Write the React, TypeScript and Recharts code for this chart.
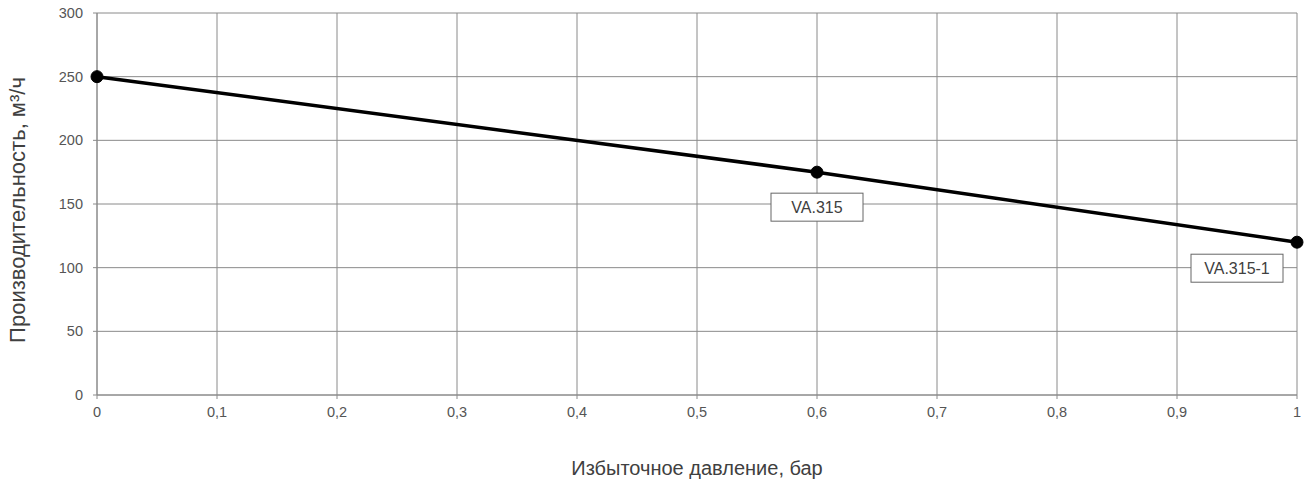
import React from 'react';
import { LineChart, Line, XAxis, YAxis, CartesianGrid, Label, LabelList } from 'recharts';

const pressure = [0, 0.6, 1];
const flow = [250, 175, 120];
const pointNames = ['', 'VA.315', 'VA.315-1'];
const xTicks = [0, 0.1, 0.2, 0.3, 0.4, 0.5, 0.6, 0.7, 0.8, 0.9, 1];
const yTicks = [0, 50, 100, 150, 200, 250, 300];

const data = pressure.map((p, i) => ({ p, flow: flow[i], name: pointNames[i] }));

const FONT = 'Liberation Sans, Arial, sans-serif';
const tickStyle = { fontSize: 14.5, fill: '#555', fontFamily: FONT };

// box label under a point; the last one sits to the left of the point
function BoxLabel(props: any) {
  const { x, y, value, index } = props;
  if (!value) return null;
  const w = 92;
  const h = 28;
  const last = index === pressure.length - 1;
  const cx = last ? x - 60 : x;
  const top = last ? y + 12 : y + 21;
  return (
    <g>
      <rect x={cx - w / 2} y={top} width={w} height={h} fill="#fff" stroke="#666" strokeWidth={1} />
      <text x={cx} y={top + h / 2 + 5.5} textAnchor="middle" fontSize={16} fill="#404040" fontFamily={FONT}>
        {value}
      </text>
    </g>
  );
}

export default function App() {
  return (
    <div style={{ width: 1311, height: 488, background: '#fff' }}>
      <style>{'body{margin:0}'}</style>
      <LineChart width={1311} height={488} data={data} margin={{ top: 13, right: 14, left: 0, bottom: 0 }}>
        <CartesianGrid stroke="#8a8a8a" strokeWidth={1} />
        <XAxis
          dataKey="p"
          type="number"
          domain={[0, 1]}
          ticks={xTicks}
          tickFormatter={(v: number) => String(v).replace('.', ',')}
          tick={tickStyle}
          tickLine={{ stroke: '#8a8a8a' }}
          axisLine={{ stroke: '#8a8a8a' }}
          tickSize={4}
          tickMargin={8}
          height={93}
        >
          <Label
            value="Избыточное давление, бар"
            position="insideBottom"
            offset={13}
            style={{ fontSize: 20, fill: '#404040', fontFamily: FONT }}
          />
        </XAxis>
        <YAxis
          type="number"
          domain={[0, 300]}
          ticks={yTicks}
          tick={tickStyle}
          tickLine={{ stroke: '#8a8a8a' }}
          axisLine={{ stroke: '#8a8a8a' }}
          tickSize={4}
          tickMargin={10}
          width={97}
        >
          <Label
            value="Производительность, м³/ч"
            angle={-90}
            position="insideLeft"
            offset={17}
            dy={6}
            style={{ fontSize: 22, fill: '#404040', textAnchor: 'middle', fontFamily: FONT }}
          />
        </YAxis>
        <Line
          dataKey="flow"
          type="linear"
          stroke="#000"
          strokeWidth={3.5}
          dot={{ r: 6, fill: '#000', stroke: '#000', strokeWidth: 1 }}
          activeDot={false}
          isAnimationActive={false}
        >
          <LabelList dataKey="name" content={BoxLabel} />
        </Line>
      </LineChart>
    </div>
  );
}
